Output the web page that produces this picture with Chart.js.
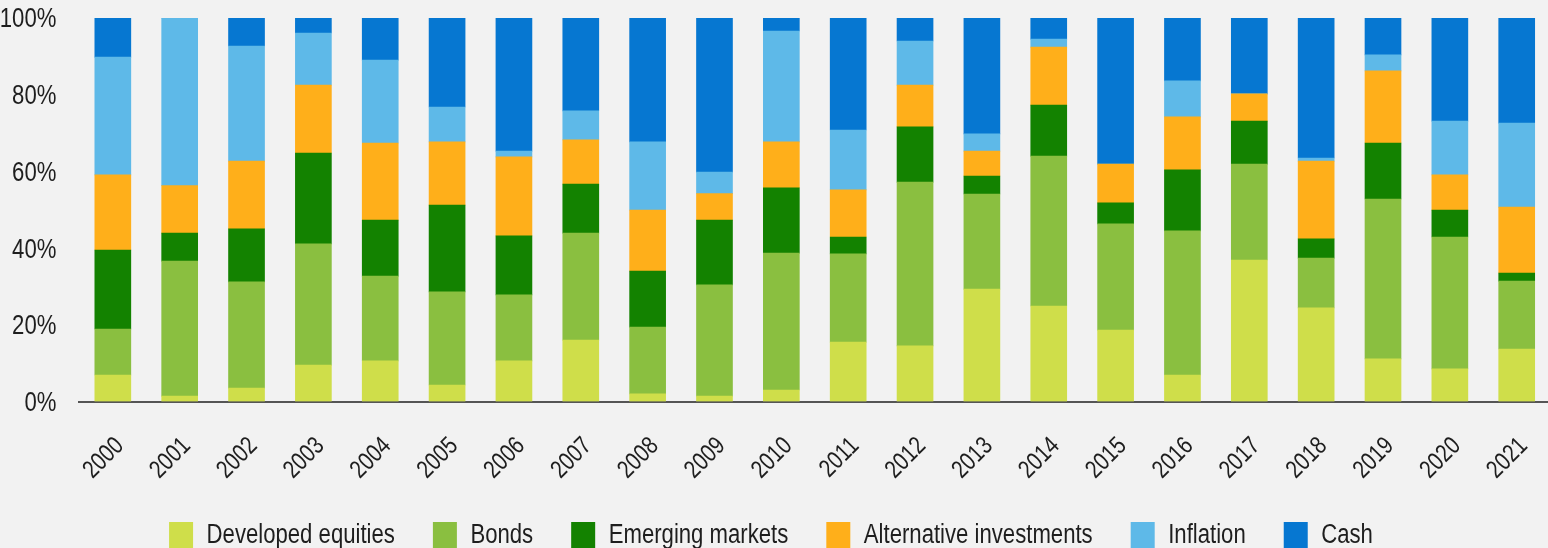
<!DOCTYPE html>
<html>
<head>
<meta charset="utf-8">
<script src="https://cdn.jsdelivr.net/npm/chart.js@4/dist/chart.umd.min.js"></script>
<style>
  html, body { margin: 0; padding: 0; background: #f2f2f2; overflow: hidden; }
  #wrap { width: 1560px; height: 559px; position: relative; }
</style>
</head>
<body>
<div id="wrap"><canvas id="c" width="1560" height="559"></canvas></div>
<script>
const years = ['2000','2001','2002','2003','2004','2005','2006','2007','2008','2009','2010','2011','2012','2013','2014','2015','2016','2017','2018','2019','2020','2021'];
const developedEquities = [6.9, 1.4, 3.5, 9.5, 10.6, 4.3, 10.6, 16.0, 2.0, 1.4, 3.0, 15.5, 14.5, 29.3, 24.9, 18.6, 6.9, 36.9, 24.4, 11.1, 8.5, 13.7];
const bonds             = [12.0, 35.2, 27.7, 31.6, 22.1, 24.3, 17.2, 27.9, 17.4, 29.0, 35.7, 23.0, 42.7, 24.8, 39.1, 27.7, 37.6, 25.0, 13.0, 41.7, 34.4, 17.7];
const emergingMarkets   = [20.6, 7.3, 13.8, 23.7, 14.6, 22.6, 15.4, 12.8, 14.6, 16.9, 17.0, 4.4, 14.4, 4.7, 13.3, 5.5, 15.9, 11.2, 5.0, 14.6, 7.0, 2.1];
const alternatives      = [19.6, 12.4, 17.7, 17.7, 20.1, 16.5, 20.6, 11.5, 15.9, 6.9, 12.0, 12.3, 10.9, 6.5, 15.1, 10.1, 13.8, 7.1, 20.3, 18.8, 9.2, 17.2];
const inflation         = [30.7, 43.7, 30.0, 13.6, 21.6, 9.1, 1.5, 7.6, 17.8, 5.6, 28.9, 15.6, 11.5, 4.5, 2.1, 0, 9.4, 0, 0.8, 4.2, 14.0, 21.9];
const cash              = [10.2, 0, 7.3, 3.9, 11.0, 23.2, 34.7, 24.2, 32.3, 40.2, 3.4, 29.2, 6.0, 30.2, 5.5, 38.1, 16.4, 19.8, 36.5, 9.6, 26.9, 27.4];
const yTicks = [0, 20, 40, 60, 80, 100];

const seriesNames = ['Developed equities', 'Bonds', 'Emerging markets', 'Alternative investments', 'Inflation', 'Cash'];
const seriesData = [developedEquities, bonds, emergingMarkets, alternatives, inflation, cash];
const seriesColors = ['#cfde4a', '#8abf40', '#138200', '#ffaf1a', '#5eb9e8', '#0677d1'];

const FONT = "'Liberation Sans', Arial, sans-serif";

// Condensed text rendering (narrow face is not installed): squeeze glyphs horizontally.
const SX = 0.82;
(function () {
  const P = CanvasRenderingContext2D.prototype;
  const origFill = P.fillText, origMeasure = P.measureText;
  P.fillText = function (t, x, y, maxW) {
    this.save();
    this.translate(x, y);
    this.scale(SX, 1);
    if (maxW !== undefined && maxW !== null) origFill.call(this, t, 0, 0, maxW / SX);
    else origFill.call(this, t, 0, 0);
    this.restore();
  };
  P.measureText = function (t) {
    const m = origMeasure.call(this, t);
    return {
      width: m.width * SX,
      actualBoundingBoxAscent: m.actualBoundingBoxAscent,
      actualBoundingBoxDescent: m.actualBoundingBoxDescent,
      actualBoundingBoxLeft: m.actualBoundingBoxLeft * SX,
      actualBoundingBoxRight: m.actualBoundingBoxRight * SX,
      fontBoundingBoxAscent: m.fontBoundingBoxAscent,
      fontBoundingBoxDescent: m.fontBoundingBoxDescent
    };
  };
})();

const legendShift = {
  id: 'legendShift',
  afterLayout(chart) {
    const lg = chart.legend;
    if (!lg) return;
    const w = lg.right - lg.left;
    const center = 771;
    lg.left = center - w / 2;
    lg.right = center + w / 2;
  }
};

new Chart(document.getElementById('c'), {
  type: 'bar',
  data: {
    labels: years,
    datasets: seriesNames.map((n, i) => ({
      label: n,
      data: seriesData[i],
      backgroundColor: seriesColors[i],
      borderWidth: 0,
      barThickness: 36
    }))
  },
  plugins: [legendShift],
  options: {
    responsive: false,
    animation: false,
    devicePixelRatio: 1,
    layout: { padding: { top: 18, right: 3.5, left: 0, bottom: 0 } },
    plugins: {
      tooltip: { enabled: false },
      legend: {
        position: 'bottom',
        labels: {
          font: { family: FONT, size: 27 },
          color: '#1e1e1e',
          boxWidth: 24,
          boxHeight: 27,
          padding: 38
        }
      }
    },
    scales: {
      x: {
        stacked: true,
        offset: true,
        grid: { display: false },
        border: { display: true, color: '#555', width: 2 },
        ticks: {
          font: { family: FONT, size: 25 },
          color: '#1e1e1e',
          minRotation: 45,
          maxRotation: 45,
          padding: 22,
          labelOffset: 7,
          autoSkip: false
        },
        afterFit(scale) { scale.height = 82.5; }
      },
      y: {
        stacked: true,
        min: 0,
        max: 100,
        grid: { display: false },
        border: { display: false },
        afterBuildTicks(scale) { scale.ticks = yTicks.map(v => ({ value: v })); },
        ticks: {
          font: { family: FONT, size: 27 },
          color: '#1e1e1e',
          padding: 15,
          labelOffset: 2,
          callback: v => v + '%'
        },
        afterFit(scale) {
          scale.width = 79.4;
          scale.paddingTop = 0;
          scale.paddingBottom = 0;
        }
      }
    }
  }
});
</script>
</body>
</html>
